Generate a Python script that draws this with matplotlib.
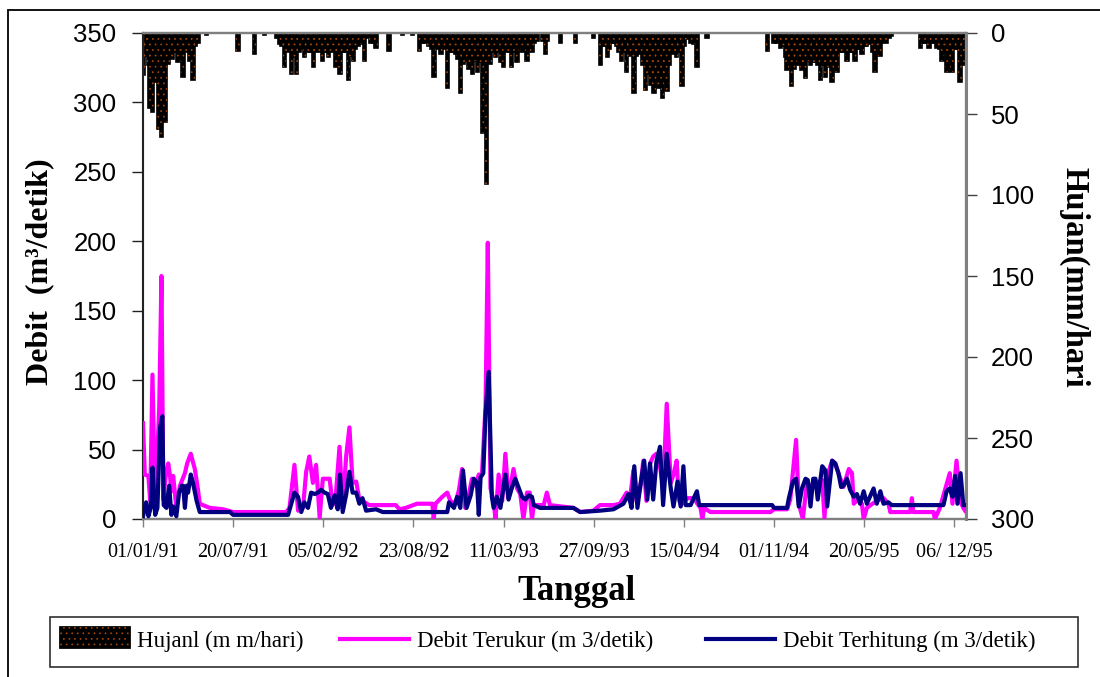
import matplotlib
matplotlib.use("Agg")
import matplotlib.pyplot as plt
import matplotlib.dates as mdates
from matplotlib.patches import Rectangle, Patch
from matplotlib.lines import Line2D
from matplotlib.legend_handler import HandlerBase
import numpy as np
import pandas as pd

# ---------------- data ----------------
start_date = "1991-01-01"

# daily rainfall (day offset from start, mm/day)
rain_day = [1, 5, 8, 12, 15, 21, 28, 34, 41, 49, 56, 61, 66, 72, 78, 84, 89, 96, 104, 111, 117, 122, 141,
            211, 248, 270,
            297, 303, 308, 314, 320, 325, 329, 335, 340, 346, 352, 358, 363, 368, 373, 378, 383, 388, 393,
            398, 404, 408, 412, 418, 422, 427, 432, 437, 442, 447, 451, 456, 461, 467, 472, 478, 484, 491,
            498, 505, 511, 517, 546, 576, 598,
            613, 620, 626, 633, 640, 646, 652, 657, 661, 668, 675, 681, 686, 693, 699, 705, 710, 716, 723,
            727, 731, 737, 742, 747, 753, 757, 762, 767, 771, 776, 782, 787, 793, 800, 804, 807, 813, 818,
            824, 830, 835, 841, 846, 852, 857, 863, 868, 874, 887, 893, 898, 926, 960,
            1000, 1015, 1020, 1025, 1030, 1035, 1040, 1044, 1050, 1055, 1062, 1067, 1073, 1078, 1083, 1089,
            1094, 1098, 1103, 1108, 1115, 1120, 1126, 1130, 1134, 1139, 1145, 1152, 1157, 1163, 1168, 1174,
            1179, 1184, 1189, 1196, 1201, 1207, 1215, 1222, 1229, 1251,
            1385, 1400, 1405, 1415, 1420, 1425, 1429, 1434, 1439, 1444, 1448, 1451, 1456, 1462, 1466, 1470,
            1476, 1481, 1486, 1492, 1497, 1503, 1508, 1514, 1518, 1521, 1525, 1529, 1535, 1540, 1545, 1551,
            1556, 1562, 1567, 1573, 1580, 1585, 1590, 1595, 1600, 1605, 1610, 1615, 1620, 1624, 1630, 1635,
            1640, 1645, 1650, 1655, 1661,
            1725, 1730, 1735, 1740, 1744, 1750, 1755, 1762, 1768, 1773, 1779, 1784, 1790, 1795, 1800, 1806,
            1813, 1817, 1821]
rain_mm = [26, 14, 14, 20, 46, 49, 30, 59, 64, 55, 19, 14, 16, 12, 18, 12, 27, 12, 17, 29, 8, 6, 1,
           11, 13, 1,
           3, 7, 8, 21, 12, 10, 25, 15, 25, 12, 10, 15, 10, 12, 12, 21, 12, 10, 12,
           17, 12, 12, 15, 12, 10, 21, 14, 25, 12, 12, 12, 29, 14, 17, 10, 8, 7, 17,
           3, 6, 6, 9, 11, 1, 1,
           11, 6, 6, 8, 10, 27, 10, 8, 13, 10, 34, 12, 12, 13, 16, 37, 19, 17, 22,
           20, 25, 17, 24, 18, 62, 20, 93, 15, 19, 12, 15, 12, 18, 21, 10, 12, 12, 21,
           12, 18, 10, 12, 10, 17, 8, 12, 6, 5, 5, 13, 5, 6, 6,
           3, 20, 8, 8, 15, 10, 6, 6, 8, 12, 17, 12, 24, 14, 12, 37,
           14, 12, 13, 20, 35, 25, 32, 25, 37, 28, 34, 40, 30, 36, 20, 13,
           12, 15, 12, 33, 8, 4, 6, 7, 21, 3,
           11, 6, 6, 9, 8, 15, 23, 20, 33, 22, 20, 12, 20, 23, 20, 28,
           17, 20, 18, 18, 20, 29, 20, 27, 18, 21, 20, 30, 20, 24, 12, 12,
           12, 17, 12, 12, 17, 10, 10, 13, 8, 8, 7, 6, 12, 24, 8, 14,
           6, 4, 6, 3, 2,
           9, 6, 6, 6, 9, 6, 6, 9, 10, 17, 12, 24, 15, 24, 10, 10,
           30, 12, 20]

# measured discharge (Debit Terukur, m3/s)
obs_day = [0, 4, 12, 16, 21, 27, 36, 41, 45, 51, 56, 60, 63, 67, 74, 82, 93, 98, 106, 115, 122, 126, 133,
           148, 178, 200, 318, 325, 336, 344, 355, 362, 369, 377, 384, 392, 399, 406, 414, 421, 428, 436,
           443, 451, 458, 465, 473, 480, 487, 502, 561, 569, 583, 608, 642, 645, 649, 664, 675, 682, 693,
           701, 708, 715, 723, 730, 738, 745, 752, 760, 765, 771, 778, 782, 789, 797, 804, 811, 822, 830,
           837, 844, 852, 858, 863, 867, 889, 896, 903, 955, 970, 999, 1014, 1044, 1058, 1073, 1080, 1088,
           1095, 1103, 1110, 1117, 1125, 1132, 1139, 1147, 1154, 1162, 1171, 1178, 1184, 1189, 1193, 1208,
           1223, 1230, 1237, 1241, 1245, 1259, 1392, 1400, 1429, 1436, 1449, 1455, 1464, 1473, 1481, 1495,
           1507, 1512, 1518, 1529, 1536, 1543, 1554, 1566, 1573, 1577, 1588, 1595, 1599, 1606, 1614, 1628,
           1643, 1654, 1658, 1702, 1706, 1709, 1754, 1757, 1768, 1776, 1790, 1796, 1805, 1813, 1820, 1824]
obs_q = [69, 32, 31, 13, 104, 8, 80, 175, 14, 33, 40, 31, 20, 31, 8, 24, 33, 40, 47, 36, 21, 11, 10,
         8, 7, 5, 5, 8, 39, 6, 8, 34, 45, 26, 39, 1, 29, 29, 29, 10, 18, 52,
         8, 46, 66, 26, 27, 14, 13, 10, 10, 7, 8, 11, 11, 0, 11, 16, 19, 13, 11,
         21, 36, 8, 18, 29, 24, 32, 32, 81, 199, 22, 13, 0, 32, 13, 47, 15, 36, 22,
         18, 0, 19, 19, 0, 10, 10, 19, 10, 8, 5, 6, 10, 10, 11, 19, 13, 35,
         13, 22, 42, 13, 40, 45, 47, 38, 22, 83, 26, 33, 42, 14, 10, 15,
         15, 11, 8, 0, 8, 5, 5, 7, 7, 14, 57, 11, 0, 26, 24, 26,
         28, 1, 31, 42, 40, 33, 23, 36, 33, 11, 15, 11, 0, 8, 10, 13,
         15, 11, 5, 5, 15, 5, 5, 0, 8, 17, 33, 11, 42, 13, 8, 6]

# computed discharge (Debit Terhitung, m3/s)
sim_day = [0, 7, 12, 17, 21, 27, 32, 38, 43, 46, 52, 58, 63, 67, 74, 80, 86, 89, 93, 97, 100, 106, 111, 119,
           126, 193, 200, 322, 329, 336, 344, 351, 358, 366, 373, 381, 388, 395, 403, 410, 417, 425, 432,
           437, 443, 451, 458, 465, 473, 480, 487, 495, 517, 532, 675, 679, 690, 697, 704, 710, 718, 727,
           734, 741, 745, 749, 755, 760, 767, 774, 778, 785, 793, 804, 811, 819, 826, 833, 841, 848, 856,
           863, 867, 881, 955, 970, 1014, 1044, 1066, 1077, 1084, 1090, 1097, 1103, 1112, 1119, 1125, 1132,
           1139, 1147, 1154, 1162, 1171, 1177, 1186, 1193, 1199, 1204, 1215, 1229, 1234, 1396, 1400, 1429,
           1433, 1442, 1449, 1455, 1462, 1470, 1475, 1481, 1487, 1492, 1497, 1507, 1514, 1518, 1529, 1536,
           1543, 1549, 1554, 1562, 1569, 1577, 1584, 1591, 1599, 1606, 1621, 1628, 1636, 1643, 1654, 1661,
           1776, 1783, 1790, 1796, 1802, 1807, 1814, 1820, 1826]
sim_q = [2, 12, 2, 8, 37, 3, 8, 66, 74, 10, 8, 24, 3, 9, 2, 19, 24, 24, 8, 24, 19, 32, 26, 13,
         5, 5, 3, 3, 11, 19, 16, 5, 12, 8, 19, 18, 19, 21, 19, 18, 8, 17, 7,
         32, 5, 18, 34, 19, 19, 11, 15, 6, 7, 5, 5, 12, 8, 16, 8, 35, 8, 17,
         29, 26, 3, 30, 33, 76, 106, 16, 8, 16, 8, 32, 14, 23, 29, 23, 16, 14, 17,
         16, 10, 8, 8, 5, 6, 7, 11, 18, 8, 38, 8, 23, 42, 14, 40, 14,
         41, 52, 10, 47, 22, 9, 27, 9, 38, 10, 10, 20, 10, 10, 8, 8,
         15, 27, 29, 9, 22, 29, 28, 9, 29, 29, 14, 38, 35, 9, 42, 40,
         33, 23, 24, 29, 21, 16, 18, 11, 20, 11, 22, 11, 20, 11, 12, 10,
         10, 20, 22, 16, 31, 11, 33, 10, 10]

x_tick_labels = ["01/01/91", "20/07/91", "05/02/92", "23/08/92", "11/03/93", "27/09/93",
                 "15/04/94", "01/11/94", "20/05/95", "06/ 12/95"]
end_date = "1996-01-01"

label_rain = "Hujanl (m m/hari)"
label_obs = "Debit Terukur (m 3/detik)"
label_sim = "Debit Terhitung (m 3/detik)"

# ---------------- plotting ----------------
HATCH_C = "#a84808"
plt.rcParams["hatch.linewidth"] = 0.5

W, H = 1100, 677
fig = plt.figure(figsize=(W / 100, H / 100), dpi=100)
ax = fig.add_axes([143 / W, 1 - 519 / H, (966 - 143) / W, (519 - 33) / H])
ax2 = ax.twinx()

t0 = pd.Timestamp(start_date)
def to_num(days):
    return mdates.date2num(t0 + pd.to_timedelta(np.asarray(days, dtype=float), unit="D"))

# rainfall bars hanging from the top (right axis inverted)
xr = to_num(rain_day)
ax2.bar(xr, rain_mm, width=7.5, color="black", edgecolor="black", linewidth=1.2, zorder=2)
ax2.bar(xr, rain_mm, width=7.5, fill=False, edgecolor=HATCH_C, linewidth=0, hatch="...", zorder=2.5)
ax2.set_ylim(300, 0)
ax2.set_yticks(np.arange(0, 301, 50))

ax.plot(to_num(obs_day), obs_q, color="#ff00ff", lw=3.0, solid_joinstyle="round", zorder=3)
ax.plot(to_num(sim_day), sim_q, color="#000080", lw=3.0, solid_joinstyle="round", zorder=4)
ax.set_ylim(0, 350)
ax.set_yticks(np.arange(0, 351, 50))
ax.set_zorder(ax2.get_zorder() + 1)
ax.patch.set_visible(False)

tick_dates = [pd.to_datetime(s.replace(" ", ""), format="%d/%m/%y") for s in x_tick_labels]
ax.set_xlim(mdates.date2num(t0), mdates.date2num(pd.Timestamp(end_date)))
ax.set_xticks(mdates.date2num(tick_dates))
ax.set_xticklabels(x_tick_labels, family="Liberation Serif", fontsize=14.5)

for a in (ax, ax2):
    for s in a.spines.values():
        s.set_color("#808080")
        s.set_linewidth(1.6)
ax.spines["left"].set_color("#202020")
ax.spines["left"].set_linewidth(1.4)
ax2.spines["right"].set_linewidth(2.2)

ax.tick_params(axis="y", direction="out", length=8, width=1, pad=11, labelsize=18.5,
               color="#202020")
ax.tick_params(axis="x", direction="out", length=6, width=1, pad=11, color="#808080")
ax2.tick_params(axis="y", direction="out", length=8, width=1, pad=10, labelsize=18.5,
                color="#404040")
for lab in ax.get_yticklabels() + ax2.get_yticklabels():
    lab.set_family("Liberation Sans")

fig.text(40 / W, 1 - 272 / H, "Debit  (m³/detik)", rotation=90, ha="center", va="center",
         family="Liberation Serif", fontweight="bold", fontsize=23)
fig.text(1074 / W, 1 - 277 / H, "Hujan(mm/hari", rotation=270, ha="center", va="center",
         family="Liberation Serif", fontweight="bold", fontsize=23.5)
fig.text(577 / W, 1 - 591 / H, "Tanggal", ha="center", va="center",
         family="Liberation Serif", fontweight="bold", fontsize=25)

class BarHandler(HandlerBase):
    def create_artists(self, legend, orig, xd, yd, w, h, fontsize, trans):
        r1 = Rectangle((xd, yd - 1), w, h + 2, facecolor="black", edgecolor="black",
                       linewidth=2.0, transform=trans)
        r2 = Rectangle((xd, yd - 1), w, h + 2, fill=False, edgecolor=HATCH_C, linewidth=0,
                       hatch="...", transform=trans)
        return [r1, r2]

# legend frame
fig.add_artist(Rectangle((50 / W, 1 - 667 / H), 1028 / W, 50 / H, transform=fig.transFigure,
                         fill=False, edgecolor="#303030", linewidth=1.2))
entries = [(Patch(facecolor="black"), label_rain, 60),
           (Line2D([], [], color="#ff00ff", lw=3), label_obs, 340),
           (Line2D([], [], color="#000080", lw=3), label_sim, 706)]
for h_, lab_, x0 in entries:
    lg = fig.legend([h_], [lab_], loc="center left", bbox_to_anchor=(x0 / W, 1 - 641 / H),
                    frameon=False, borderpad=0, borderaxespad=0, handlelength=3.0,
                    handleheight=0.8, handletextpad=0.35, handler_map={Patch: BarHandler()},
                    prop={"family": "Liberation Serif", "size": 16.5})

fig.add_artist(Rectangle((8 / W, -0.05), 1.2, 1.05 - 10 / H, transform=fig.transFigure,
                         fill=False, edgecolor="black", linewidth=1.3, clip_on=False))

fig.savefig("out.png", dpi=100)
